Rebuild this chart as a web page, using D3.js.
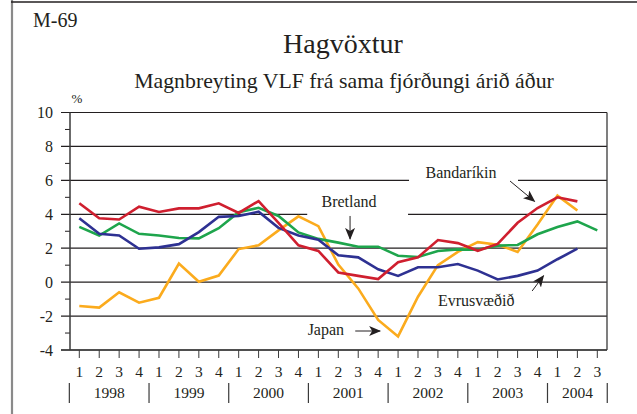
<!DOCTYPE html>
<html>
<head>
<meta charset="utf-8">
<script src="https://cdn.jsdelivr.net/npm/d3@7"></script>
<style>
  html, body { margin: 0; padding: 0; background: #fff; }
  svg { display: block; }
  text { font-family: "Liberation Serif", "Times New Roman", serif; fill: #231f20; }
</style>
</head>
<body>
<svg id="chart" width="637" height="414" font-family="Liberation Serif, serif"></svg>
<script>
// Year-on-year volume change of GDP, quarterly, %
const years = ["1998", "1999", "2000", "2001", "2002", "2003", "2004"];
const quarterNames = ["1", "2", "3", "4"];
const quartersInLastYear = 3;
const yTicks = [-4, -2, 0, 2, 4, 6, 8, 10];

const bandarikin = [4.65, 3.77, 3.69, 4.45, 4.14, 4.35, 4.35, 4.65, 4.08, 4.78, 3.5, 2.17,
  1.84, 0.57, 0.37, 0.18, 1.17, 1.46, 2.48, 2.3, 1.85, 2.25, 3.5, 4.37, 5.0, 4.76];
const evrusvaedid = [3.77, 2.85, 2.75, 1.97, 2.05, 2.24, 2.95, 3.85, 3.9, 4.15, 3.2, 2.75,
  2.5, 1.58, 1.46, 0.76, 0.37, 0.88, 0.88, 1.07, 0.68, 0.16, 0.37, 0.68, 1.35, 1.97];
const bretland = [3.26, 2.75, 3.46, 2.85, 2.75, 2.6, 2.58, 3.18, 4.12, 4.38, 3.9, 2.93,
  2.55, 2.33, 2.09, 2.09, 1.56, 1.48, 1.84, 1.93, 1.91, 2.15, 2.19, 2.82, 3.25, 3.58, 3.05];
const japan = [-1.41, -1.5, -0.6, -1.21, -0.92, 1.09, 0.02, 0.39, 1.95, 2.17, 3.05, 3.88,
  3.3, 1.04, -0.37, -2.23, -3.2, -0.86, 1.0, 1.78, 2.36, 2.21, 1.78, 3.4, 5.1, 4.22];

const seriesList = [
  { name: "Japan", values: japan, color: "#fbab1d" },
  { name: "Bretland", values: bretland, color: "#1ea54c" },
  { name: "Evrusvæðið", values: evrusvaedid, color: "#2e3192" },
  { name: "Bandaríkin", values: bandarikin, color: "#cf1f2f" }
];

// Label positions in data units (quarter index, percent)
const labels = [
  { text: "Bretland", q: 13.54, v: 4.43, anchor: "middle", arrow: [[13.59, 3.9], [13.59, 2.55]], gap: { v: 4, from: 11.44, to: 16.5 } },
  { text: "Japan", q: 13.29, v: -3.12, anchor: "end", arrow: [[13.85, -2.88], [15.1, -2.88]] },
  { text: "Bandaríkin", q: 19.16, v: 6.14, anchor: "middle", arrow: [[21.62, 5.96], [22.85, 4.76]], gap: { v: 6, from: 16.55, to: 22.02 } },
  { text: "Evrusvæðið", q: 19.92, v: -1.41, anchor: "middle", arrow: [[22.73, -0.52], [23.3, 0.38]] }
];

// Period list built from years and quarters
const periods = [];
years.forEach((yr, yi) => {
  const n = yi === years.length - 1 ? quartersInLastYear : quarterNames.length;
  for (let k = 0; k < n; k++) periods.push({ year: yr, quarter: quarterNames[k], yi });
});

const svg = d3.select("#chart");
const plot = { left: 70, right: 607, top: 112.5, bottom: 350 };

const x = d3.scaleLinear().domain([0, periods.length - 1]).range([79.3, 597.3]);
const y = d3.scaleLinear().domain([-4, 10]).range([plot.bottom, plot.top]);

// Outer frame (left and top edges)
svg.append("line").attr("x1", 12).attr("x2", 12).attr("y1", 0).attr("y2", 414)
  .attr("stroke", "#8a8a8a").attr("stroke-width", 2.2);
svg.append("line").attr("x1", 11).attr("x2", 637).attr("y1", 2).attr("y2", 2)
  .attr("stroke", "#231f20").attr("stroke-width", 1.6);

// Titles
svg.append("text").attr("x", 33).attr("y", 27).attr("font-size", 20).text("M-69");
svg.append("text").attr("x", 343).attr("y", 53).attr("text-anchor", "middle")
  .attr("font-size", 28).text("Hagvöxtur");
svg.append("text").attr("x", 344).attr("y", 88).attr("text-anchor", "middle")
  .attr("font-size", 21.8).text("Magnbreyting VLF frá sama fjórðungi árið áður");
svg.append("text").attr("x", 77).attr("y", 103).attr("text-anchor", "middle")
  .attr("font-size", 13).text("%");

// Horizontal grid lines at major ticks, extending left as tick marks
const grid = svg.append("g");
grid.selectAll("line.major").data(yTicks).join("line").attr("class", "major")
  .attr("x1", plot.left - 9).attr("x2", plot.right)
  .attr("y1", d => y(d)).attr("y2", d => y(d))
  .attr("stroke", "#231f20").attr("stroke-width", 1.2);

// Minor ticks at odd values
const minor = d3.range(-3, 10, 2);
grid.selectAll("line.minor").data(minor).join("line").attr("class", "minor")
  .attr("x1", plot.left - 5).attr("x2", plot.left)
  .attr("y1", d => y(d)).attr("y2", d => y(d))
  .attr("stroke", "#231f20").attr("stroke-width", 1);

// Breaks in grid lines around the labels
labels.filter(l => l.gap).forEach(l => {
  svg.append("rect")
    .attr("x", x(l.gap.from)).attr("width", x(l.gap.to) - x(l.gap.from))
    .attr("y", y(l.gap.v) - 2).attr("height", 4).attr("fill", "#fff");
});

// Axes frame
svg.append("line").attr("x1", plot.left).attr("x2", plot.left)
  .attr("y1", plot.top).attr("y2", plot.bottom)
  .attr("stroke", "#3a3a3a").attr("stroke-width", 1.5);
svg.append("line").attr("x1", plot.right).attr("x2", plot.right)
  .attr("y1", plot.top).attr("y2", plot.bottom)
  .attr("stroke", "#3a3a3a").attr("stroke-width", 1.3);
svg.append("line").attr("x1", plot.left - 9).attr("x2", plot.right)
  .attr("y1", plot.bottom).attr("y2", plot.bottom)
  .attr("stroke", "#3a3a3a").attr("stroke-width", 1.5);

// Y tick labels
svg.append("g").selectAll("text").data(yTicks).join("text")
  .attr("x", 53).attr("y", d => y(d)).attr("dy", "0.35em")
  .attr("text-anchor", "end").attr("font-size", 16)
  .text(d => d);

// X ticks and quarter labels
const xg = svg.append("g");
xg.selectAll("line").data(periods).join("line")
  .attr("x1", (d, i) => x(i)).attr("x2", (d, i) => x(i))
  .attr("y1", plot.bottom).attr("y2", plot.bottom + 8)
  .attr("stroke", "#3a3a3a").attr("stroke-width", 1);
xg.selectAll("text").data(periods).join("text")
  .attr("x", (d, i) => x(i)).attr("y", 377)
  .attr("text-anchor", "middle").attr("font-size", 15.5)
  .text(d => d.quarter);

// Year separators and labels
const yearSpans = years.map((yr, yi) => {
  const idx = periods.map((p, i) => p.yi === yi ? i : -1).filter(i => i >= 0);
  return { year: yr, first: idx[0], last: idx[idx.length - 1] };
});
const step = x(1) - x(0);
const seps = yearSpans.map(s => x(s.first) - step / 2).concat([x(yearSpans[yearSpans.length - 1].last) + step / 2]);
xg.selectAll("line.sep").data(seps).join("line").attr("class", "sep")
  .attr("x1", d => d).attr("x2", d => d).attr("y1", 383).attr("y2", 403)
  .attr("stroke", "#3a3a3a").attr("stroke-width", 1.2);
xg.selectAll("text.year").data(yearSpans).join("text").attr("class", "year")
  .attr("x", d => (x(d.first) + x(d.last)) / 2).attr("y", 398)
  .attr("text-anchor", "middle").attr("font-size", 15.5)
  .text(d => d.year);

// Series lines
const line = d3.line().x((d, i) => x(i)).y(d => y(d));
svg.append("g").selectAll("path").data(seriesList).join("path")
  .attr("d", d => line(d.values))
  .attr("fill", "none").attr("stroke", d => d.color)
  .attr("stroke-width", 2.6).attr("stroke-linejoin", "miter");

// Arrowhead marker
svg.append("defs").append("marker")
  .attr("id", "head").attr("viewBox", "0 0 12 10").attr("refX", 11).attr("refY", 5)
  .attr("markerUnits", "userSpaceOnUse").attr("markerWidth", 12).attr("markerHeight", 10)
  .attr("orient", "auto")
  .append("path").attr("d", "M0,0 L12,5 L0,10 L3,5 Z").attr("fill", "#231f20");

// Labels with arrows
const ann = svg.append("g");
labels.forEach(l => {
  ann.append("text").attr("x", x(l.q)).attr("y", y(l.v))
    .attr("text-anchor", l.anchor).attr("font-size", 16).text(l.text);
  ann.append("line")
    .attr("x1", x(l.arrow[0][0])).attr("y1", y(l.arrow[0][1]))
    .attr("x2", x(l.arrow[1][0])).attr("y2", y(l.arrow[1][1]))
    .attr("stroke", "#231f20").attr("stroke-width", 1)
    .attr("marker-end", "url(#head)");
});
</script>
</body>
</html>
